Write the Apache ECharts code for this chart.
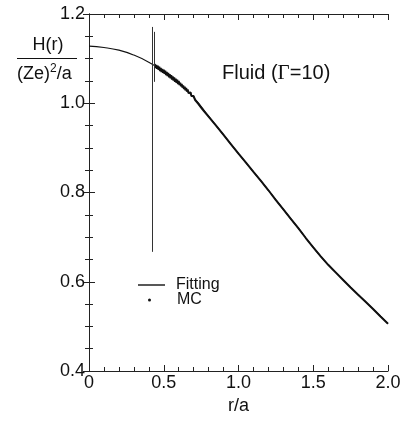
<!DOCTYPE html>
<html><head><meta charset="utf-8">
<script src="https://cdn.jsdelivr.net/npm/echarts@6/dist/echarts.min.js"></script>
<style>html,body{margin:0;padding:0;background:#fff}#c{width:404px;height:423px}</style>
</head><body><div id="c"></div>
<script>
// Fitting curve H(r)/((Ze)^2/a)
const rFit = [0,0.1,0.2,0.3,0.4,0.5,0.6,0.7,0.8,0.9,1.0,1.1,1.2,1.3,1.4,1.5,1.6,1.7,1.8,1.9,2.0];
const hFit = [1.128,1.125,1.119,1.108,1.092,1.071,1.046,1.013,0.971,0.929,0.887,0.846,0.805,0.762,0.720,0.677,0.638,0.604,0.571,0.539,0.506];
// Monte Carlo data (noisy near the start)
const rMC = [0.440,0.445,0.450,0.455,0.460,0.465,0.470,0.475,0.480,0.485,0.490,0.495,0.500,0.505,0.510,0.515,0.520,0.525,0.530,0.535,0.540,0.545,0.550,0.555,0.560,0.565,0.570,0.575,0.580,0.585,0.590,0.595,0.600,0.605,0.610,0.615,0.620,0.625,0.630,0.635,0.640,0.645,0.650,0.655,0.660,0.665,0.670,0.675,0.680,0.685,0.690,0.695,0.700,
  0.71,0.72,0.73,0.74,0.75,0.76,0.77,0.78,0.79,0.80,
  0.85,0.90,0.95,1.00,1.05,1.10,1.15,1.20,1.25,1.30,1.35,1.40,1.45,1.50,1.55,1.60,1.65,1.70,1.75,1.80,1.85,1.90,1.95,2.00];
const hMC = [1.088,1.079,1.086,1.077,1.084,1.075,1.082,1.072,1.079,1.070,1.077,1.068,1.075,1.066,1.073,1.063,1.070,1.061,1.068,1.058,1.065,1.056,1.063,1.053,1.060,1.051,1.058,1.048,1.055,1.046,1.053,1.043,1.050,1.041,1.046,1.038,1.043,1.035,1.040,1.032,1.037,1.029,1.034,1.026,1.031,1.023,1.027,1.020,1.024,1.016,1.020,1.012,1.016,
  1.007,1.007,0.999,0.998,0.990,0.989,0.982,0.981,0.974,0.971,
  0.950,0.929,0.908,0.887,0.867,0.846,0.826,0.805,0.783,0.762,0.741,0.720,0.698,0.677,0.657,0.638,0.621,0.604,0.587,0.571,0.555,0.539,0.522,0.506];
// MC spikes near start
const spikeR = [0.420,0.435];
const spikeTop = [1.171,1.160];
const spikeBottom = [0.667,1.048];
const xTicks = ['0','0.5','1.0','1.5','2.0'];
const yTicks = ['0.4','0.6','0.8','1.0','1.2'];

const FONT = 'Liberation Sans, Arial, sans-serif';
const axisCommon = {
  type: 'value',
  axisLine: {show: true, lineStyle: {color: '#222', width: 1}},
  axisTick: {show: true, inside: true, length: 6, lineStyle: {color: '#222'}},
  minorTick: {show: true, length: 4, lineStyle: {color: '#222'}},
  splitLine: {show: false}
};
const chart = echarts.init(document.getElementById('c'), null, {renderer: 'canvas'});
chart.setOption({
  animation: false,
  backgroundColor: '#fff',
  grid: {left: 89, right: 16, top: 14, bottom: 52},
  xAxis: [
    Object.assign({}, axisCommon, {position: 'bottom', min: 0, max: 2, interval: 0.5,
      minorTick: Object.assign({}, axisCommon.minorTick, {splitNumber: 5}),
      axisLabel: {margin: 3, fontSize: 18, color: '#111', fontFamily: FONT,
        formatter: v => xTicks[Math.round(v / 0.5)]},
      name: 'r/a', nameLocation: 'middle', nameGap: 25,
      nameTextStyle: {fontSize: 18, color: '#111', fontFamily: FONT}}),
    Object.assign({}, axisCommon, {position: 'top', min: 0, max: 2, interval: 0.5,
      minorTick: Object.assign({}, axisCommon.minorTick, {splitNumber: 5}),
      axisLabel: {show: false}})
  ],
  yAxis: [
    Object.assign({}, axisCommon, {position: 'left', min: 0.4, max: 1.2, interval: 0.2,
      minorTick: Object.assign({}, axisCommon.minorTick, {splitNumber: 4}),
      axisLabel: {margin: 4, fontSize: 18, color: '#111', fontFamily: FONT,
        formatter: v => yTicks[Math.round((v - 0.4) / 0.2)]}}),
    Object.assign({}, axisCommon, {position: 'right', min: 0.4, max: 1.2, interval: 0.2,
      minorTick: Object.assign({}, axisCommon.minorTick, {splitNumber: 4}),
      axisLabel: {show: false}})
  ],
  legend: [
    {data: [{name: 'Fitting', icon: 'rect'}], left: 133, top: 272, orient: 'vertical', itemWidth: 27, itemHeight: 1.4,
      textStyle: {fontSize: 16, color: '#111', fontFamily: FONT, padding: [0, 0, 0, 6]}},
    {data: [{name: 'MC', icon: 'circle'}], left: 143, top: 287, itemWidth: 3, itemHeight: 3,
      textStyle: {fontSize: 16, color: '#111', fontFamily: FONT, padding: [0, 0, 0, 21]}}
  ],
  graphic: [
    {type: 'text', left: 17, top: 36, style: {
      text: '{n|H(r)}\n{hr|}\n{d|(Ze)}{s|2}{d|/a}',
      rich: {
        n: {fontSize: 18, fontFamily: FONT, fill: '#111', width: 62, align: 'center', lineHeight: 22},
        hr: {width: 60, height: 1, backgroundColor: '#111', lineHeight: 5},
        d: {fontSize: 18, fontFamily: FONT, fill: '#111', lineHeight: 26},
        s: {fontSize: 12, fontFamily: FONT, fill: '#111', lineHeight: 26, padding: [0, 0, 10, 0]}
      }}},
    {type: 'text', left: 222, top: 63, style: {
      text: 'Fluid ({g|Γ}=10)', fontSize: 20, fontFamily: FONT, fill: '#111',
      rich: {g: {fontSize: 21, fontFamily: 'Liberation Serif, Times New Roman, serif', fill: '#111'}}}}
  ],
  series: [
    {name: 'MC', type: 'line', showSymbol: false, symbol: 'circle', symbolSize: 3,
      data: rMC.map((r, i) => [r, hMC[i]]),
      lineStyle: {color: '#111', width: 2}, itemStyle: {color: '#111'}, z: 2},
    {name: 'Fitting', type: 'line', smooth: true, symbol: 'none',
      data: rFit.map((r, i) => [r, hFit[i]]),
      lineStyle: {color: '#111', width: 1.1}, itemStyle: {color: '#111'}, z: 3},
    {name: 'spikes', type: 'lines', coordinateSystem: 'cartesian2d', polyline: false,
      data: spikeR.map((r, i) => ({coords: [[r, spikeTop[i]], [r, spikeBottom[i]]]})),
      lineStyle: {color: '#333', width: 1, opacity: 1}, z: 4}
  ]
});
</script></body></html>
